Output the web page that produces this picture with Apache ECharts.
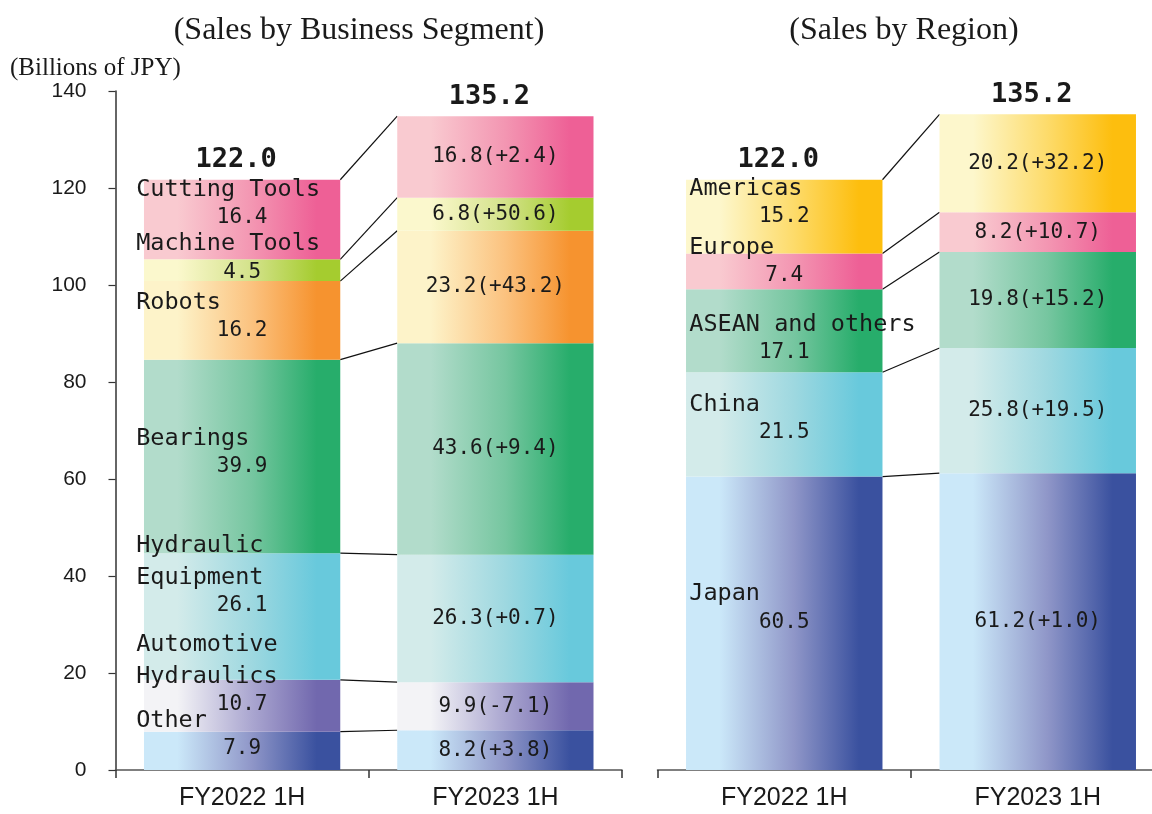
<!DOCTYPE html>
<html>
<head>
<meta charset="utf-8">
<script src="https://cdn.jsdelivr.net/npm/echarts@6/dist/echarts.min.js"></script>
<style>
html,body{margin:0;padding:0;background:#fff;}
#chart{width:1152px;height:814px;}
</style>
</head>
<body>
<div id="chart"></div>
<script>
"use strict";

const categories = ["FY2022 1H", "FY2023 1H"];

// sales by business segment, bottom -> top
const segNames = ["Other", "Automotive\nHydraulics", "Hydraulic\nEquipment", "Bearings", "Robots", "Machine Tools", "Cutting Tools"];
const seg2022 = [7.9, 10.7, 26.1, 39.9, 16.2, 4.5, 16.4];
const seg2023 = [8.2, 9.9, 26.3, 43.6, 23.2, 6.8, 16.8];
const segChange = [3.8, -7.1, 0.7, 9.4, 43.2, 50.6, 2.4];
const segTotals = [122.0, 135.2];

// sales by region, bottom -> top
const regNames = ["Japan", "China", "ASEAN and others", "Europe", "Americas"];
const reg2022 = [60.5, 21.5, 17.1, 7.4, 15.2];
const reg2023 = [61.2, 25.8, 19.8, 8.2, 20.2];
const regChange = [1.0, 19.5, 15.2, 10.7, 32.2];
const regTotals = [122.0, 135.2];

const yMin = 0, yMax = 140, yStep = 20;

// gradients: light on the left, strong on the right
const palette = {
	blue:   ["#cbe8f9", "#8f96c8", "#3a519f"],
	purple: ["#f3f3f6", "#aaa6d0", "#7168ae"],
	cyan:   ["#d3ebea", "#9ed8e0", "#68c9dc"],
	green:  ["#b2dccb", "#76c6a0", "#27ad6b"],
	orange: ["#fdf3c9", "#fbc27f", "#f6932f"],
	lime:   ["#fbf8cd", "#d3e28a", "#a5cc2f"],
	pink:   ["#f9cad0", "#f396b2", "#ee6096"],
	yellow: ["#fdf7cc", "#fddb6a", "#fdbe0e"]
};
const segColors = ["blue", "purple", "cyan", "green", "orange", "lime", "pink"];
const regColors = ["blue", "cyan", "green", "pink", "yellow"];

// vertical nudges for the name+value labels of the first bar
const segNudge = [-18, -33, -43, -6, -6, -14, -18];
const regNudge = [-17, -8, 6, -12, -16];

const BAR = 0.775;
const MONO = "'DejaVu Sans Mono', 'Liberation Mono', monospace";
const TXT = "#1a1a1a";

function grad(key){
	const c = palette[key];
	return new echarts.graphic.LinearGradient(0, 0, 1, 0, [
		{offset: 0, color: c[0]},
		{offset: 0.17, color: c[0]},
		{offset: 0.55, color: c[1]},
		{offset: 0.88, color: c[2]},
		{offset: 1, color: c[2]}
	]);
}
function fmt(v){ return v.toFixed(1); }

function stackSeries(idx, names, v1, v2, chg, colors, nudge, nameWidth, stack){
	return names.map((name, i) => ({
		type: "bar",
		name: name,
		stack: stack,
		xAxisIndex: idx,
		yAxisIndex: idx,
		barWidth: (BAR * 100) + "%",
		itemStyle: {color: grad(colors[i])},
		emphasis: {disabled: true},
		label: {
			show: true,
			position: "inside",
			color: TXT,
			fontFamily: MONO,
			fontSize: 21
		},
		data: [
			{
				value: v1[i],
				label: {
					width: nameWidth,
					offset: [0, nudge[i]],
					formatter: () => name.split("\n").map(s => "{n|" + s + "}").join("\n") + "\n{v|" + fmt(v1[i]) + "}",
					rich: {
						n: {align: "left", fontFamily: MONO, fontSize: 23.5, lineHeight: 32, color: TXT},
						v: {align: "center", fontFamily: MONO, fontSize: 21, lineHeight: 24, color: TXT}
					}
				}
			},
			{
				value: v2[i],
				label: {
					formatter: () => fmt(v2[i]) + "(" + (chg[i] >= 0 ? "+" : "") + fmt(chg[i]) + ")"
				}
			}
		]
	}));
}

function totalSeries(idx, totals, stack){
	return {
		type: "bar",
		stack: stack,
		xAxisIndex: idx,
		yAxisIndex: idx,
		barWidth: (BAR * 100) + "%",
		itemStyle: {color: "rgba(0,0,0,0)"},
		silent: true,
		label: {
			show: true,
			position: "top",
			distance: 6,
			offset: [-6, 0],
			color: TXT,
			fontFamily: MONO,
			fontWeight: "bold",
			fontSize: 27,
			formatter: (p) => fmt(totals[p.dataIndex])
		},
		data: [0, 0]
	};
}

function connectors(idx, v1, v2){
	let a = 0, b = 0;
	const data = v1.map((v, i) => {
		a += v;
		b += v2[i];
		return [0, a, b];
	});
	return {
		type: "custom",
		xAxisIndex: idx,
		yAxisIndex: idx,
		silent: true,
		encode: {x: 0, y: [1, 2]},
		renderItem: (params, api) => {
			const p1 = api.coord([0, api.value(1)]);
			const p2 = api.coord([1, api.value(2)]);
			const hw = api.size([1, 0])[0] * BAR / 2;
			return {
				type: "line",
				shape: {x1: p1[0] + hw, y1: p1[1], x2: p2[0] - hw, y2: p2[1]},
				style: {stroke: "#111", lineWidth: 1.2}
			};
		},
		data: data
	};
}

const xAxisBase = {
	type: "category",
	data: categories,
	axisLine: {lineStyle: {color: "#555", width: 1.5}},
	axisTick: {show: true, length: 8, lineStyle: {color: "#333", width: 1.5}},
	axisLabel: {color: TXT, fontFamily: "'Liberation Sans', Arial, sans-serif", fontSize: 25, margin: 16}
};

const myChart = echarts.init(document.getElementById("chart"), null, {renderer: "canvas"});

const option = {
	animation: false,
	backgroundColor: "#fff",
	grid: [
		{left: 115.5, top: 91, width: 506.5, bottom: 44, containLabel: false, outerBoundsMode: "none"},
		{left: 657.5, top: 91, width: 507, bottom: 44, containLabel: false, outerBoundsMode: "none"}
	],
	xAxis: [
		Object.assign({gridIndex: 0}, xAxisBase),
		Object.assign({gridIndex: 1}, xAxisBase)
	],
	yAxis: [
		{
			gridIndex: 0,
			type: "value",
			min: yMin, max: yMax, interval: yStep,
			axisLine: {show: true, lineStyle: {color: "#333", width: 1.5}},
			axisTick: {show: true, length: 7, lineStyle: {color: "#333", width: 1.2}},
			axisLabel: {color: TXT, fontFamily: "'Liberation Sans', Arial, sans-serif", fontSize: 21, margin: 29},
			splitLine: {show: false}
		},
		{
			gridIndex: 1,
			type: "value",
			min: yMin, max: yMax, interval: yStep,
			show: false,
			splitLine: {show: false}
		}
	],
	graphic: [
		{type: "text", x: 359, y: 31, style: {text: "(Sales by Business Segment)", font: "32px 'Liberation Serif', 'Times New Roman', serif", fill: TXT, align: "center", verticalAlign: "middle"}},
		{type: "text", x: 904, y: 31, style: {text: "(Sales by Region)", font: "32px 'Liberation Serif', 'Times New Roman', serif", fill: TXT, align: "center", verticalAlign: "middle"}},
		{type: "text", x: 10, y: 68, style: {text: "(Billions of JPY)", font: "25px 'Liberation Serif', 'Times New Roman', serif", fill: TXT, align: "left", verticalAlign: "middle"}}
	],
	series: [].concat(
		stackSeries(0, segNames, seg2022, seg2023, segChange, segColors, segNudge, 212, "seg"),
		[totalSeries(0, segTotals, "seg"), connectors(0, seg2022, seg2023)],
		stackSeries(1, regNames, reg2022, reg2023, regChange, regColors, regNudge, 190, "reg"),
		[totalSeries(1, regTotals, "reg"), connectors(1, reg2022, reg2023)]
	)
};

myChart.setOption(option);

window.onresize = function(){
	myChart.resize();
};
</script>
</body>
</html>
